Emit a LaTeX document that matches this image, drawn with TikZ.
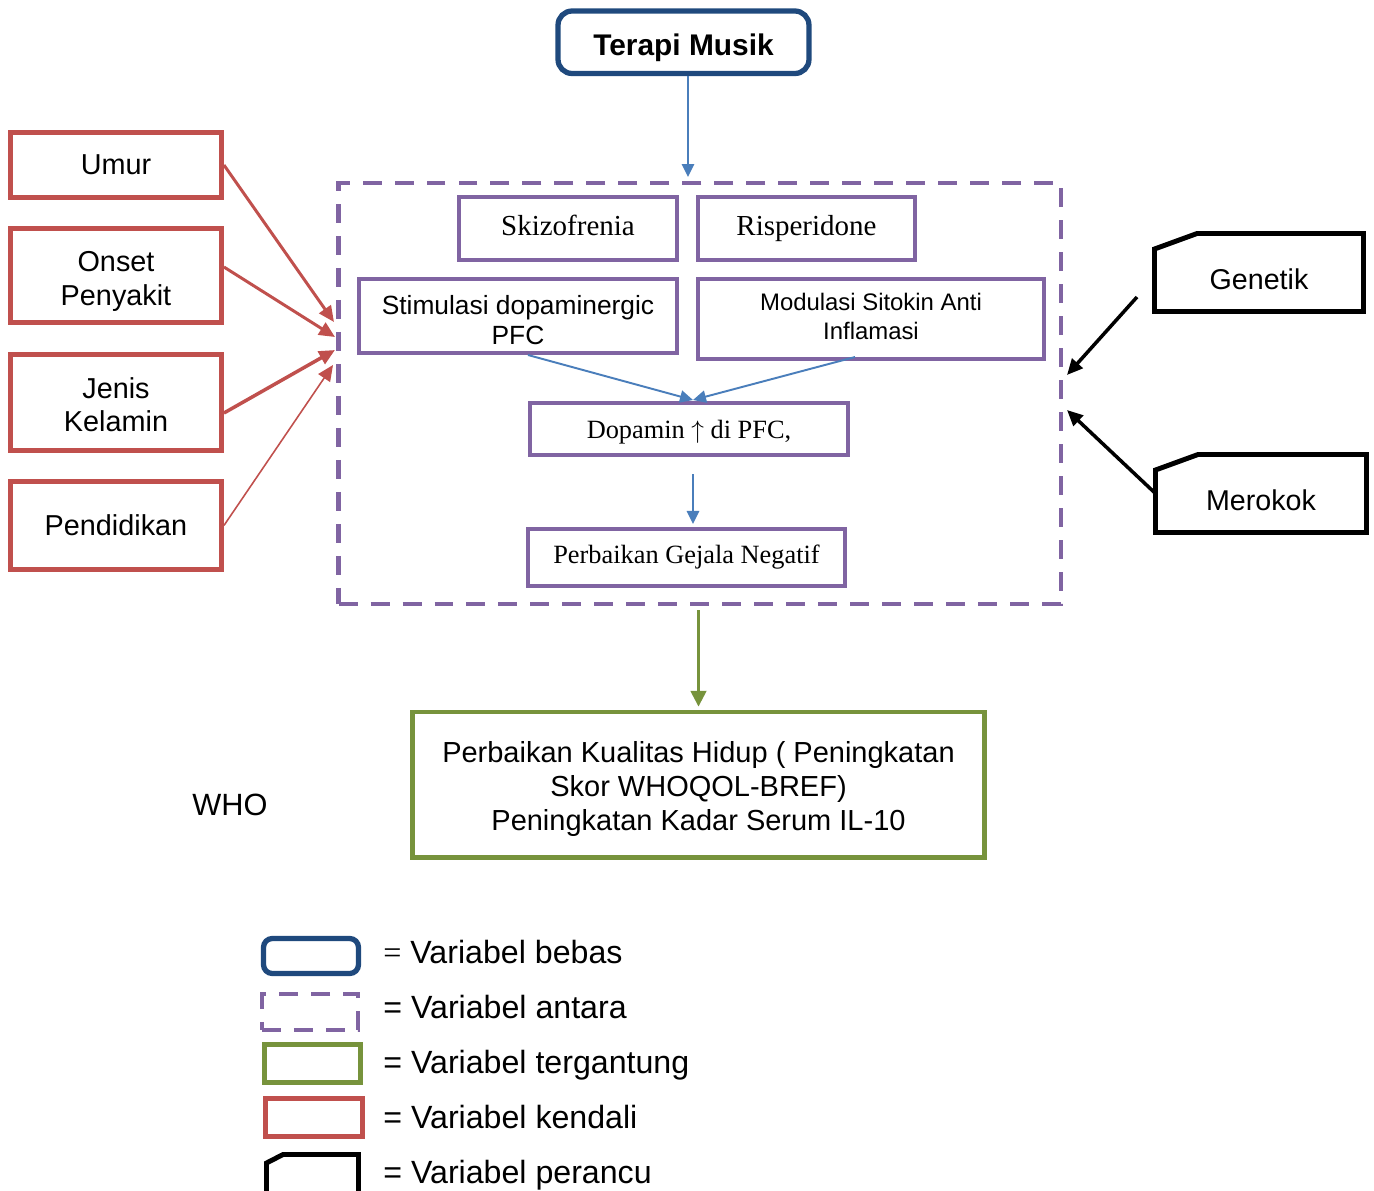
\documentclass[tikz,border=0pt]{standalone}
\usepackage{fontspec}
\setmainfont{Liberation Sans}
\newfontfamily\timesfont{Liberation Serif}
\usetikzlibrary{arrows.meta,calc}

\definecolor{bebasblue}{RGB}{31,73,125}
\definecolor{antarapurple}{RGB}{128,100,162}
\definecolor{tergantunggreen}{RGB}{119,147,60}
\definecolor{kendalired}{RGB}{192,80,77}
\definecolor{panahblue}{RGB}{74,126,187}

\tikzset{
  bebas/.style={draw=bebasblue, line width=3pt, rounded corners=8pt, inner sep=0pt},
  antaradash/.style={draw=antarapurple, line width=2.5pt, dash pattern=on 10.8pt off 7.4pt},
  antarabox/.style={draw=antarapurple, line width=2.3pt, inner sep=0pt, align=center},
  tergantung/.style={draw=tergantunggreen, line width=2.8pt, inner sep=0pt, align=center},
  kendali/.style={draw=kendalired, line width=2.8pt, inner sep=0pt, align=center,
    font=\fontsize{16.4}{19.3}\selectfont},
  perancu/.style={draw=black, line width=2.8pt, line join=miter},
  perancutext/.style={inner sep=0pt, outer sep=0pt, font=\fontsize{16.3}{19}\selectfont},
  legendtext/.style={anchor=base west, inner sep=0pt, font=\fontsize{18.3}{21}\selectfont},
  panah/.style={-{Triangle[length=7.4pt,width=7pt]}, color=panahblue, line width=1.1pt},
  panahhijau/.style={-{Triangle[length=9pt,width=9pt]}, color=tergantunggreen, line width=1.4pt},
  panahmerah/.style={-{Triangle[length=9pt,width=8pt]}, color=kendalired, line width=1.7pt},
  panahhitam/.style={-{Triangle[length=9pt,width=8pt]}, color=black, line width=2pt}
}

\def\perancubox#1#2#3{\draw[perancu] ([yshift=-#3]#1.north west) -- ([xshift=#2]#1.north west) -- (#1.north east) -- (#1.south east) -- (#1.south west) -- cycle;}

\begin{document}
\begin{tikzpicture}[x=0.02cm, y=-0.02cm]
			%%%%% START %%%%%
			\useasboundingbox (0, 0) rectangle (1374, 1191);
			
			% variabel bebas
			\node[bebas, minimum width=5.02cm, minimum height=1.25cm, text height=19pt, font=\fontsize{17}{20}\selectfont\bfseries] (terapi) at (683.5, 42.25) {Terapi Musik};
			
			% variabel antara
			\node[antaradash, minimum width=14.45cm, minimum height=8.42cm] (antara) at (699.75, 393.5) {};
			\node[antarabox, minimum width=4.36cm, minimum height=1.26cm, text height=8pt, font=\timesfont\fontsize{16.5}{19}\selectfont] (skizo) at (568, 228.5) {Skizofrenia};
			\node[antarabox, minimum width=4.34cm, minimum height=1.26cm, font=\timesfont\fontsize{16.5}{19}\selectfont] (risper) at (806.5, 228.5) {Risperidone};
			\node[antarabox, minimum width=6.36cm, minimum height=1.48cm, text height=32.5pt, font=\fontsize{15}{17}\selectfont] (stim) at (518, 316) {Stimulasi dopaminergic\\PFC};
			\node[antarabox, minimum width=6.92cm, minimum height=1.6cm, text height=22.9pt, font=\fontsize{13.6}{16.4}\selectfont] (modul) at (871, 319) {Modulasi Sitokin Anti\\Inflamasi};
			\node[antarabox, minimum width=6.36cm, minimum height=1.04cm, text height=13.8pt, font=\timesfont\fontsize{15}{18}\selectfont] (dopamin) at (689, 429) {Dopamin $\uparrow$ di PFC,};
			\node[antarabox, minimum width=6.34cm, minimum height=1.14cm, font=\timesfont\fontsize{15}{18}\selectfont] (perbaikan) at (686.5, 557.5) {Perbaikan Gejala Negatif};
			
			% variabel tergantung
			\node[tergantung, minimum width=11.46cm, minimum height=2.91cm, text height=55.1pt, font=\fontsize{16.5}{19.3}\selectfont] (hasil) at (698.5, 784.75) {Perbaikan Kualitas Hidup ( Peningkatan\\Skor WHOQOL-BREF)\\Peningkatan Kadar Serum IL-10};
			\node[inner sep=0pt, font=\fontsize{17.5}{20}\selectfont] (who) at (230, 805) {WHO};
			
			% variabel kendali
			\node[kendali, minimum width=4.22cm, minimum height=1.3cm] (umur) at (116, 165) {Umur};
			\node[kendali, minimum width=4.22cm, minimum height=1.88cm, text height=37.1pt] (onset) at (116, 275.5) {Onset\\Penyakit};
			\node[kendali, minimum width=4.22cm, minimum height=1.92cm, text height=33.7pt] (jenis) at (116, 402.5) {Jenis\\Kelamin};
			\node[kendali, minimum width=4.22cm, minimum height=1.76cm] (pendidikan) at (116, 525.5) {Pendidikan};
			
			% variabel perancu
			\node[perancutext, minimum width=4.18cm, minimum height=1.56cm, text height=19.9pt, text depth=0pt] (genetik) at (1259, 272.5) {Genetik};
			\perancubox{genetik}{0.85cm}{0.31cm}
			\node[perancutext, minimum width=4.22cm, minimum height=1.56cm, text height=19.9pt, text depth=0pt] (merokok) at (1261, 493.5) {Merokok};
			\perancubox{merokok}{0.85cm}{0.31cm}
			
			% panah
			\coordinate (atas) at (688, 177);
			\coordinate (temu) at (693, 400);
			\draw[panah] (terapi.south -| atas) -- (atas);
			\draw[panah] ([xshift=0.2cm]stim.south) -- (temu);
			\draw[panah] ([xshift=-0.32cm, yshift=0.08cm]modul.south) -- (temu);
			\draw[panah] ([xshift=0.08cm, yshift=-0.34cm]dopamin.south) -- ([xshift=0.13cm, yshift=0.06cm]perbaikan.north);
			\draw[panahhijau] ([yshift=-0.08cm]antara.south -| hasil.north) -- ([yshift=0.06cm]hasil.north);
			
			\coordinate (k1) at (334, 322);
			\coordinate (k2) at (335, 337);
			\coordinate (k3) at (335, 350);
			\coordinate (k4) at (333, 365);
			\draw[panahmerah] (umur.east) -- (k1);
			\draw[panahmerah] ([yshift=0.17cm]onset.east) -- (k2);
			\draw[panahmerah, line width=2pt] ([yshift=-0.21cm]jenis.east) -- (k3);
			\draw[panahmerah, line width=0.9pt] (pendidikan.east) -- (k4);
			
			\coordinate (g1) at (1137, 297);
			\coordinate (g2) at (1067, 375);
			\coordinate (m2) at (1067, 410);
			\draw[panahhitam] (g1) -- (g2);
			\draw[panahhitam] (merokok.west) -- (m2);
			
			% keterangan
			\node[bebas, minimum width=1.9cm, minimum height=0.7cm, rounded corners=5pt] (legbebas) at (311, 956) {};
			\node[antaradash, minimum width=1.92cm, minimum height=0.72cm] (legantara) at (310, 1012) {};
			\node[tergantung, minimum width=1.92cm, minimum height=0.76cm] (legtergantung) at (312.5, 1063.5) {};
			\node[kendali, minimum width=1.94cm, minimum height=0.76cm] (legkendali) at (314, 1117.5) {};
			\node[perancutext, minimum width=1.84cm, minimum height=0.9cm] (legperancu) at (312.5, 1177) {};
			\perancubox{legperancu}{0.33cm}{0.17cm}
			
			\node[legendtext] (tbebas) at (383, 963) {{\timesfont =} Variabel bebas};
			\node[legendtext] (tantara) at (383, 1018) {= Variabel antara};
			\node[legendtext] (ttergantung) at (383, 1073) {= Variabel tergantung};
			\node[legendtext] (tkendali) at (383, 1128) {= Variabel kendali};
			\node[legendtext] (tperancu) at (383, 1183) {= Variabel perancu};
			
			%%%%% END %%%%%
\end{tikzpicture}
\end{document}
